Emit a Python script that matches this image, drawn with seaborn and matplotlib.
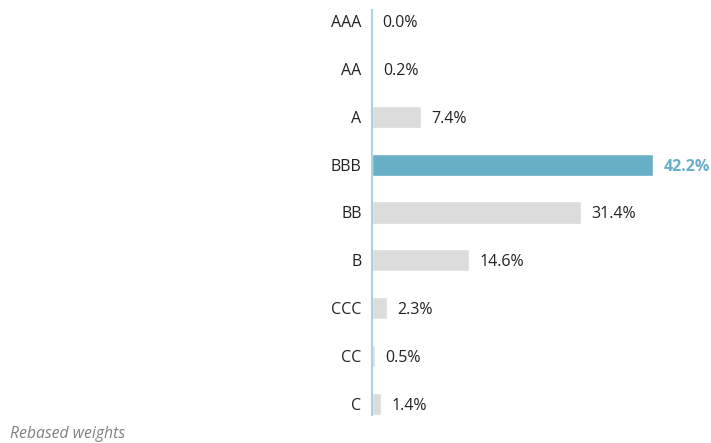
import matplotlib
matplotlib.use("Agg")
import matplotlib.pyplot as plt
import seaborn as sns
import pandas as pd

categories = ["AAA", "AA", "A", "BBB", "BB", "B", "CCC", "CC", "C"]
values = [0.0, 0.2, 7.4, 42.2, 31.4, 14.6, 2.3, 0.5, 1.4]
labels = ["0.0%", "0.2%", "7.4%", "42.2%", "31.4%", "14.6%", "2.3%", "0.5%", "1.4%"]
highlight = "BBB"
note = "Rebased weights"

sns.set_theme(style="white")
plt.rcParams["font.family"] = ["Open Sans", "DejaVu Sans"]

df = pd.DataFrame({"rating": categories, "weight": values})
df["group"] = ["hl" if c == highlight else "base" for c in categories]

fig = plt.figure(figsize=(7.11, 4.43), dpi=100)
ax = fig.add_axes([372 / 711, 28 / 443, 1 - 372 / 711, (415 - 10) / 443])

hl_col = "#67AFC7"
base_col = "#DCDCDC"
sns.barplot(data=df, y="rating", x="weight", hue="group", orient="h",
            palette={"hl": hl_col, "base": base_col}, dodge=False,
            width=0.46, legend=False, ax=ax, saturation=1)

ax.set_xlim(0, 50.9)
ax.set_ylim(8.23, -0.23)
for s in ["top", "right", "bottom"]:
    ax.spines[s].set_visible(False)
ax.spines["left"].set_color("#A9D3DF")
ax.spines["left"].set_linewidth(1.5)
ax.set_xticks([])
ax.set_xlabel("")
ax.set_ylabel("")
ax.tick_params(axis="y", length=0, pad=7.5, labelsize=11.5, labelcolor="#222222")

for i, (c, v, lab) in enumerate(zip(categories, values, labels)):
    if c == highlight:
        ax.annotate(lab, (v, i), xytext=(7.5, 0), textcoords="offset points",
                    va="center_baseline", ha="left", fontsize=11.5, color=hl_col,
                    fontweight="bold")
    else:
        ax.annotate(lab, (v, i), xytext=(7.5, 0), textcoords="offset points",
                    va="center_baseline", ha="left", fontsize=11.5, color="#222222")

fig.text(10 / 711, 1 - 434 / 443, note, fontsize=11.3, style="italic",
         color="#808080", va="center", ha="left")

fig.savefig("out.png", dpi=100)
